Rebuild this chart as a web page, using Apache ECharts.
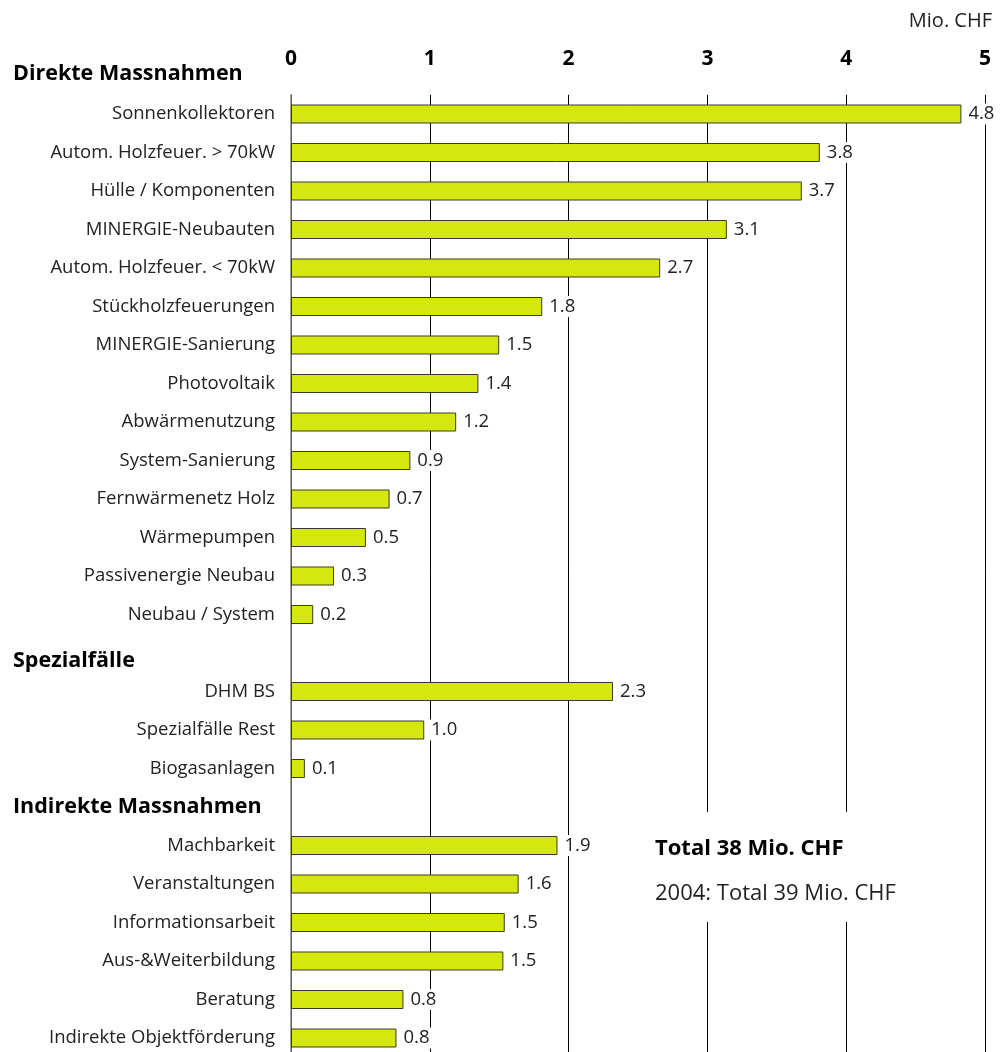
<!DOCTYPE html>
<html>
<head>
<meta charset="utf-8">
<script src="https://cdn.jsdelivr.net/npm/echarts@6/dist/echarts.min.js"></script>
<style>
  html, body { margin: 0; padding: 0; background: #fff; }
  #chart { width: 1000px; height: 1052px; }
</style>
</head>
<body>
<div id="chart"></div>
<script>
// rows of the chart, group headers included (they get no bar)
var categories = [
  'Sonnenkollektoren', 'Autom. Holzfeuer. > 70kW', 'Hülle / Komponenten', 'MINERGIE-Neubauten',
  'Autom. Holzfeuer. < 70kW', 'Stückholzfeuerungen', 'MINERGIE-Sanierung', 'Photovoltaik',
  'Abwärmenutzung', 'System-Sanierung', 'Fernwärmenetz Holz', 'Wärmepumpen',
  'Passivenergie Neubau', 'Neubau / System',
  'Spezialfälle',
  'DHM BS', 'Spezialfälle Rest', 'Biogasanlagen',
  'Indirekte Massnahmen',
  'Machbarkeit', 'Veranstaltungen', 'Informationsarbeit', 'Aus-&Weiterbildung',
  'Beratung', 'Indirekte Objektförderung'
];
var values = [
  4.83, 3.81, 3.68, 3.14, 2.66, 1.81, 1.50, 1.35, 1.19, 0.86, 0.71, 0.54, 0.31, 0.16,
  null,
  2.32, 0.96, 0.10,
  null,
  1.92, 1.64, 1.54, 1.53, 0.81, 0.76
];
var headers = ['Direkte Massnahmen', 'Spezialfälle', 'Indirekte Massnahmen'];
var unit = 'Mio. CHF';
var totalText = 'Total 38 Mio. CHF';
var prevText = '2004: Total 39 Mio. CHF';

var font = '"Open Sans", "Noto Sans", sans-serif';
var chart = echarts.init(document.getElementById('chart'));

var option = {
  backgroundColor: '#fff',
  animation: false,
  textStyle: { fontFamily: font },
  grid: { left: 291, right: 15, top: 94.75, height: 962.5, outerBoundsMode: 'none', containLabel: false },
  xAxis: {
    type: 'value',
    position: 'top',
    min: 0,
    max: 5,
    interval: 1,
    axisLine: { show: false },
    axisTick: { show: false },
    axisLabel: { fontSize: 21, fontWeight: 'bold', color: '#000', margin: 25, fontFamily: font },
    splitLine: { show: true, lineStyle: { color: '#000', width: 1 } }
  },
  yAxis: {
    type: 'category',
    inverse: true,
    data: categories,
    axisLine: { show: true, lineStyle: { color: '#808080', width: 1.5 } },
    axisTick: { show: false },
    axisLabel: {
      fontSize: 18.5,
      color: '#222',
      margin: 16,
      fontFamily: font,
      formatter: function (v) {
        if (v === 'Spezialfälle') return '{h2|' + v + '}';
        if (headers.indexOf(v) >= 0) return '{h|' + v + '}';
        return v;
      },
      rich: {
        h: { fontSize: 21.5, fontWeight: 'bold', color: '#000', width: 262, align: 'left', fontFamily: font },
        h2: { fontSize: 21.5, fontWeight: 'bold', color: '#000', width: 262, align: 'left', fontFamily: font, padding: [16, 0, 0, 0] }
      }
    }
  },
  series: [{
    type: 'bar',
    data: values,
    barWidth: 19,
    itemStyle: { color: '#d4e80f', borderColor: '#3a3a2a', borderWidth: 1 },
    label: {
      show: true,
      position: 'right',
      distance: 5,
      fontSize: 18.5,
      color: '#222',
      fontFamily: font,
      backgroundColor: '#fff',
      padding: [1, 2],
      formatter: function (p) { return p.value.toFixed(1); }
    }
  }],
  graphic: [
    {
      type: 'text', x: 13, y: 74, z: 100,
      style: { text: headers[0], font: 'bold 21.5px ' + font, fill: '#000', align: 'left', verticalAlign: 'middle' }
    },
    {
      type: 'text', x: 992, y: 21, z: 100,
      style: { text: unit, font: '20px ' + font, fill: '#222', align: 'right', verticalAlign: 'middle' }
    },
    {
      type: 'rect', z: 100,
      shape: { x: 650, y: 812, width: 255, height: 110 },
      style: { fill: '#fff' }
    },
    {
      type: 'text', x: 655, y: 849, z: 101,
      style: { text: totalText, font: 'bold 22px ' + font, fill: '#000', align: 'left', verticalAlign: 'middle' }
    },
    {
      type: 'text', x: 655, y: 894, z: 101,
      style: { text: prevText, font: '22px ' + font, fill: '#222', align: 'left', verticalAlign: 'middle' }
    }
  ]
};

chart.setOption(option);
</script>
</body>
</html>
